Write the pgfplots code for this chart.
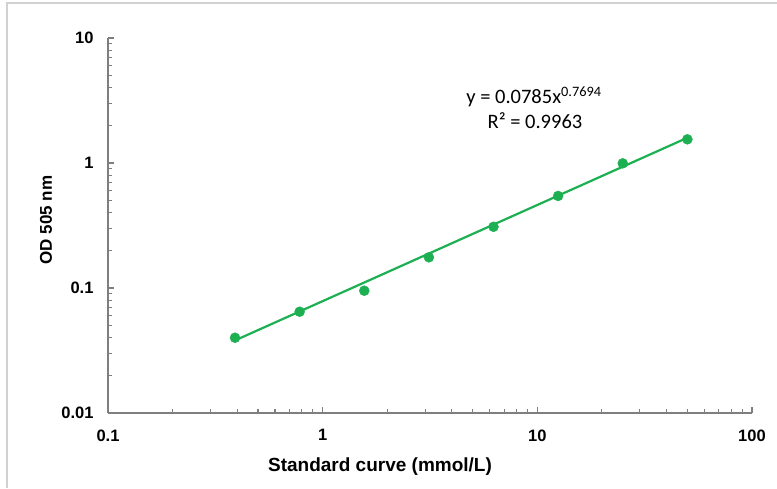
\documentclass[border=0pt]{standalone}
\usepackage{fontspec}
\setmainfont{Liberation Sans}
\newfontfamily\calibri{Carlito}
\usepackage{pgfplots}
\pgfplotsset{compat=1.18}
\definecolor{xlgreen}{HTML}{1DB052}
\definecolor{axgray}{HTML}{7F7F7F}
\begin{document}
\begin{tikzpicture}[x=1pt,y=1pt]
\useasboundingbox (0,0) rectangle (777,488);
\draw[line width=1.5pt, color=black!18] (7,0) -- (7,485) -- (777,485);
\begin{axis}[
  at={(108pt,75pt)}, anchor=south west,
  scale only axis, width=644pt, height=375pt,
  xmode=log, ymode=log,
  xmin=0.1, xmax=100, ymin=0.01, ymax=10,
  axis x line=bottom, axis y line=left,
  axis line style={-, axgray, line width=1.3pt},
  every tick/.style={axgray, line width=1.1pt},
  tick align=inside,
  major tick length=6pt, minor tick length=4pt,
  xtick={0.1,1,10,100},
  xticklabels={\textbf{0.1},\textbf{1},\textbf{10},\textbf{100}},
  ytick={0.01,0.1,1,10},
  yticklabels={\textbf{0.01},\textbf{0.1},\textbf{1},\textbf{10}},
  minor xtick={0.2,0.3,0.4,0.5,0.6,0.7,0.8,0.9,2,3,4,5,6,7,8,9,20,30,40,50,60,70,80,90},
  minor ytick={0.02,0.03,0.04,0.05,0.06,0.07,0.08,0.09,0.2,0.3,0.4,0.5,0.6,0.7,0.8,0.9,2,3,4,5,6,7,8,9},
  xticklabel style={font=\bfseries\fontsize{16.5}{16.5}\selectfont, yshift=-13pt},
  yticklabel style={font=\bfseries\fontsize{16.5}{16.5}\selectfont, xshift=-11pt},
  clip=false,
]
\addplot[only marks, mark=*, mark size=5pt, color=xlgreen] coordinates {
  (0.390625,0.0400) (0.78125,0.0646) (1.5625,0.0951) (3.125,0.176)
  (6.25,0.309) (12.5,0.545) (25,0.994) (50,1.547)
};
\addplot[no marks, color=xlgreen, line width=2.2pt] coordinates {
  (0.390625,0.03809) (50,1.5924)
};
\end{axis}
\node[font=\bfseries\fontsize{19}{19}\selectfont] at (380,21) {Standard curve (mmol/L)};
\node[font=\bfseries\fontsize{17}{17}\selectfont, rotate=90] at (46,268) {OD 505 nm};
\node[font=\calibri\fontsize{20.5}{20.5}\selectfont] at (534,391) {y = 0.0785x\textsuperscript{0.7694}};
\node[font=\calibri\fontsize{20.5}{20.5}\selectfont] at (535,367) {R² = 0.9963};
\end{tikzpicture}
\end{document}
